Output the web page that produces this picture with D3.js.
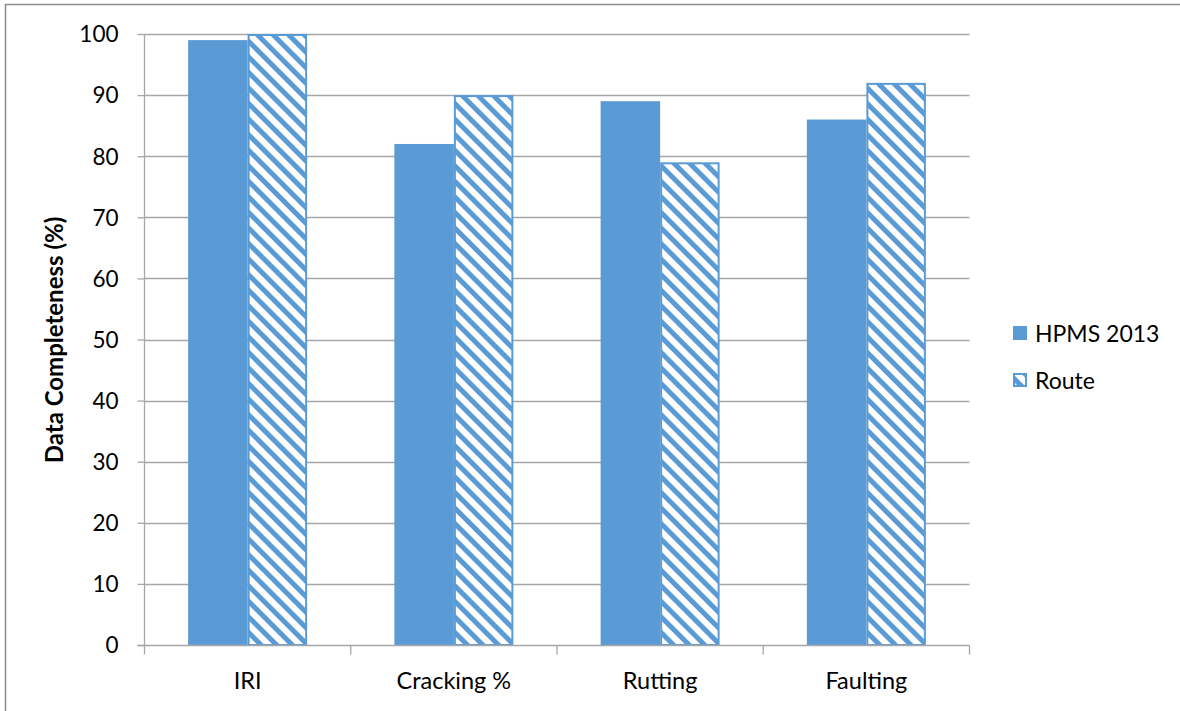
<!DOCTYPE html>
<html>
<head>
<meta charset="utf-8">
<script src="https://cdn.jsdelivr.net/npm/d3@7"></script>
<style>
  html, body { margin: 0; padding: 0; background: #fff; }
  svg { display: block; }
  text { font-family: Lato, "Open Sans", sans-serif; fill: #000; }
</style>
</head>
<body>
<svg id="chart" width="1180" height="711"></svg>
<script>
// Data completeness by metric
const categories = ["IRI", "Cracking %", "Rutting", "Faulting"];
const seriesNames = ["HPMS 2013", "Route"];
const hpms2013 = [99, 82, 89, 86];
const route = [100, 90, 79, 92];
const yTicks = [0, 10, 20, 30, 40, 50, 60, 70, 80, 90, 100];

const blue = "#5B9BD5";
const fontStack = "Lato, 'Open Sans', sans-serif";
const svg = d3.select("#chart");

// Outer chart frame
svg.append("rect")
  .attr("x", 5.5).attr("y", 4.5)
  .attr("width", 1200).attr("height", 720)
  .attr("fill", "none").attr("stroke", "#8c8c8c").attr("stroke-width", 1.5);

// Diagonal stripe pattern for the Route series
const defs = svg.append("defs");
const pat = defs.append("pattern")
  .attr("id", "stripes")
  .attr("patternUnits", "userSpaceOnUse")
  .attr("width", 11).attr("height", 11)
  .attr("patternTransform", "rotate(-45)");
pat.append("rect").attr("width", 11).attr("height", 11).attr("fill", "#fff");
pat.append("rect").attr("x", 0).attr("width", 5).attr("height", 11).attr("fill", blue);

const plot = { left: 144.5, right: 969.5, top: 34, bottom: 645 };

const x0 = d3.scaleBand()
  .domain(categories)
  .range([plot.left, plot.right])
  .paddingInner(0.423)
  .paddingOuter(0.2115);

const x1 = d3.scaleBand()
  .domain(seriesNames)
  .range([0, x0.bandwidth()]);

const y = d3.scaleLinear().domain([0, 100]).range([plot.bottom, plot.top]);

// Horizontal gridlines
svg.append("g")
  .selectAll("line")
  .data(yTicks.filter(d => d > 0))
  .join("line")
  .attr("x1", plot.left).attr("x2", plot.right)
  .attr("y1", d => Math.round(y(d)) + 0.5).attr("y2", d => Math.round(y(d)) + 0.5)
  .attr("stroke", "#a6a6a6").attr("stroke-width", 1.3);

// Bars
const rows = categories.map((c, i) => ({ cat: c, values: [hpms2013[i], route[i]] }));
const groups = svg.append("g").selectAll("g")
  .data(rows)
  .join("g")
  .attr("transform", d => `translate(${x0(d.cat)},0)`);

groups.append("rect")
  .attr("x", x1("HPMS 2013"))
  .attr("y", d => y(d.values[0]))
  .attr("width", x1.bandwidth())
  .attr("height", d => y(0) - y(d.values[0]))
  .attr("fill", blue);

groups.append("rect")
  .attr("x", x1("Route") + 1)
  .attr("y", d => y(d.values[1]) + 1)
  .attr("width", x1.bandwidth() - 2)
  .attr("height", d => y(0) - y(d.values[1]) - 1)
  .attr("fill", "url(#stripes)")
  .attr("stroke", blue).attr("stroke-width", 2);

// Y axis
const yAxis = svg.append("g")
  .attr("transform", `translate(${plot.left},0)`)
  .call(d3.axisLeft(y).tickValues(yTicks).tickSize(7).tickPadding(19));
yAxis.select(".domain").attr("stroke", "#a6a6a6").attr("stroke-width", 1.3)
  .attr("d", `M0,${plot.top}V${plot.bottom}`);
yAxis.selectAll(".tick line").attr("stroke", "#a6a6a6").attr("stroke-width", 1.3);
yAxis.selectAll(".tick text").attr("font-size", 22.5).attr("dy", "0.35em")
  .style("font-family", fontStack);

// X axis with ticks between categories
const xAxisG = svg.append("g").attr("transform", `translate(0,${plot.bottom + 0.5})`);
xAxisG.append("line")
  .attr("x1", plot.left - 7).attr("x2", plot.right)
  .attr("stroke", "#a6a6a6").attr("stroke-width", 1.3);
const boundaries = d3.range(categories.length + 1).map(i => plot.left + i * x0.step());
xAxisG.selectAll(".bt").data(boundaries).join("line")
  .attr("x1", d => d).attr("x2", d => d)
  .attr("y1", 0).attr("y2", 9)
  .attr("stroke", "#a6a6a6").attr("stroke-width", 1.3);
xAxisG.selectAll(".cl").data(categories).join("text")
  .attr("x", d => x0(d) + x0.bandwidth() / 2)
  .attr("y", 43)
  .attr("text-anchor", "middle")
  .attr("font-size", 23.5)
  .text(d => d);

// Y axis title
svg.append("text")
  .attr("transform", "translate(63,340) rotate(-90)")
  .attr("text-anchor", "middle")
  .attr("font-size", 24)
  .attr("font-weight", "bold")
  .text("Data Completeness (%)");

// Legend
const legend = svg.append("g").attr("transform", "translate(1013,334)");
const legendItems = legend.selectAll("g").data(seriesNames).join("g")
  .attr("transform", (d, i) => `translate(0,${i * 47})`);
legendItems.append("rect")
  .attr("x", d => d === "Route" ? 1 : 0)
  .attr("y", d => d === "Route" ? -7 : -8)
  .attr("width", d => d === "Route" ? 12 : 14)
  .attr("height", d => d === "Route" ? 12 : 14)
  .attr("fill", d => d === "Route" ? "url(#stripes)" : blue)
  .attr("stroke", d => d === "Route" ? blue : "none")
  .attr("stroke-width", 2);
legendItems.append("text")
  .attr("x", 22).attr("y", 0).attr("dy", "0.35em")
  .attr("font-size", 23)
  .text(d => d);
</script>
</body>
</html>
